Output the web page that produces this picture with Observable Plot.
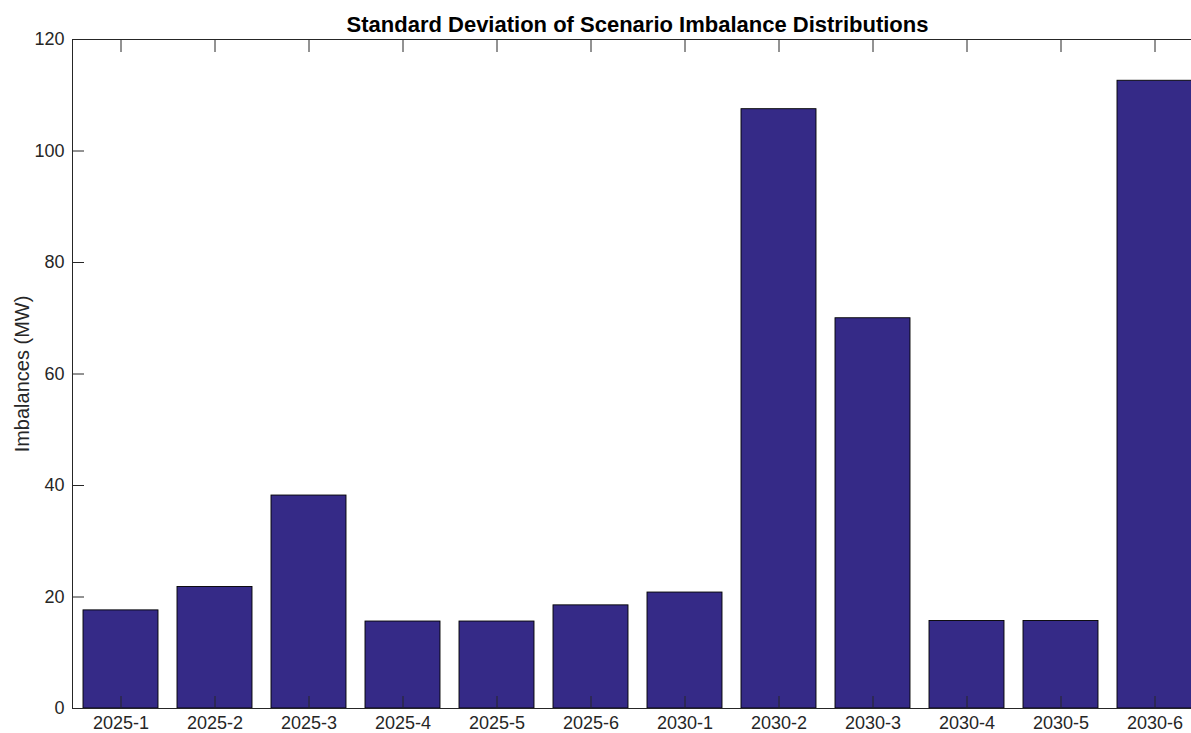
<!DOCTYPE html>
<html>
<head>
<meta charset="utf-8">
<script src="https://cdn.jsdelivr.net/npm/d3@7"></script>
<script src="https://cdn.jsdelivr.net/npm/@observablehq/plot@0.6"></script>
<style>
  html, body { margin: 0; padding: 0; background: #fff; overflow: hidden; }
  #wrap { position: relative; width: 1191px; height: 733px; }
  #title { position: absolute; top: 12px; left: 72px; width: 1131px; text-align: center;
           font-family: "Liberation Sans", Arial, sans-serif; font-weight: bold; font-size: 22px; color: #000; line-height: 26px; }
  svg { overflow: hidden; }
</style>
</head>
<body>
<div id="wrap">
  <div id="chart"></div>
  <div id="title">Standard Deviation of Scenario Imbalance Distributions</div>
</div>
<script>
const scenarios = ["2025-1","2025-2","2025-3","2025-4","2025-5","2025-6","2030-1","2030-2","2030-3","2030-4","2030-5","2030-6"];
const stdDev = [17.6, 21.8, 38.2, 15.6, 15.6, 18.5, 20.8, 107.5, 70.0, 15.7, 15.7, 112.6];
const yTicks = [0, 20, 40, 60, 80, 100, 120];
const yLabel = "Imbalances (MW)";

const data = scenarios.map((s, i) => ({scenario: s, value: stdDev[i]}));
const ink = "#262626";

const chart = Plot.plot({
  width: 1191,
  height: 733,
  marginTop: 39,
  marginBottom: 25,
  marginLeft: 72,
  marginRight: 0,
  style: {fontFamily: "'Liberation Sans', Arial, sans-serif", fontSize: "18px", color: ink, background: "#fff"},
  x: {domain: scenarios, range: [72, 1203], paddingInner: 0.2, paddingOuter: 0.1, axis: null},
  y: {domain: [0, 120], axis: null},
  marks: [
    Plot.barY(data, {x: "scenario", y: "value", fill: "#352A87", stroke: "#000", strokeWidth: 0.9}),
    Plot.ruleY([0, 120], {stroke: ink, strokeWidth: 1}),
    Plot.frame({anchor: "left", stroke: ink, strokeWidth: 1}),
    Plot.axisY({ticks: yTicks, tickSize: 0, tickPadding: 8, fill: ink, fontSize: 18, label: null}),
    Plot.axisY({ticks: yTicks, tickSize: -12, tickFormat: () => "", stroke: ink, label: null}),
    Plot.text([yLabel], {frameAnchor: "left", textAnchor: "middle", rotate: -90, dx: -50, fill: ink, fontSize: 20}),
    Plot.axisX({anchor: "bottom", tickSize: 0, tickPadding: 8, fill: ink, fontSize: 18, label: null}),
    Plot.axisX({anchor: "bottom", tickSize: -12, tickFormat: () => "", stroke: ink, label: null}),
    Plot.axisX({anchor: "top", tickSize: -12, tickFormat: () => "", stroke: ink, label: null})
  ]
});
document.getElementById("chart").appendChild(chart);
</script>
</body>
</html>
